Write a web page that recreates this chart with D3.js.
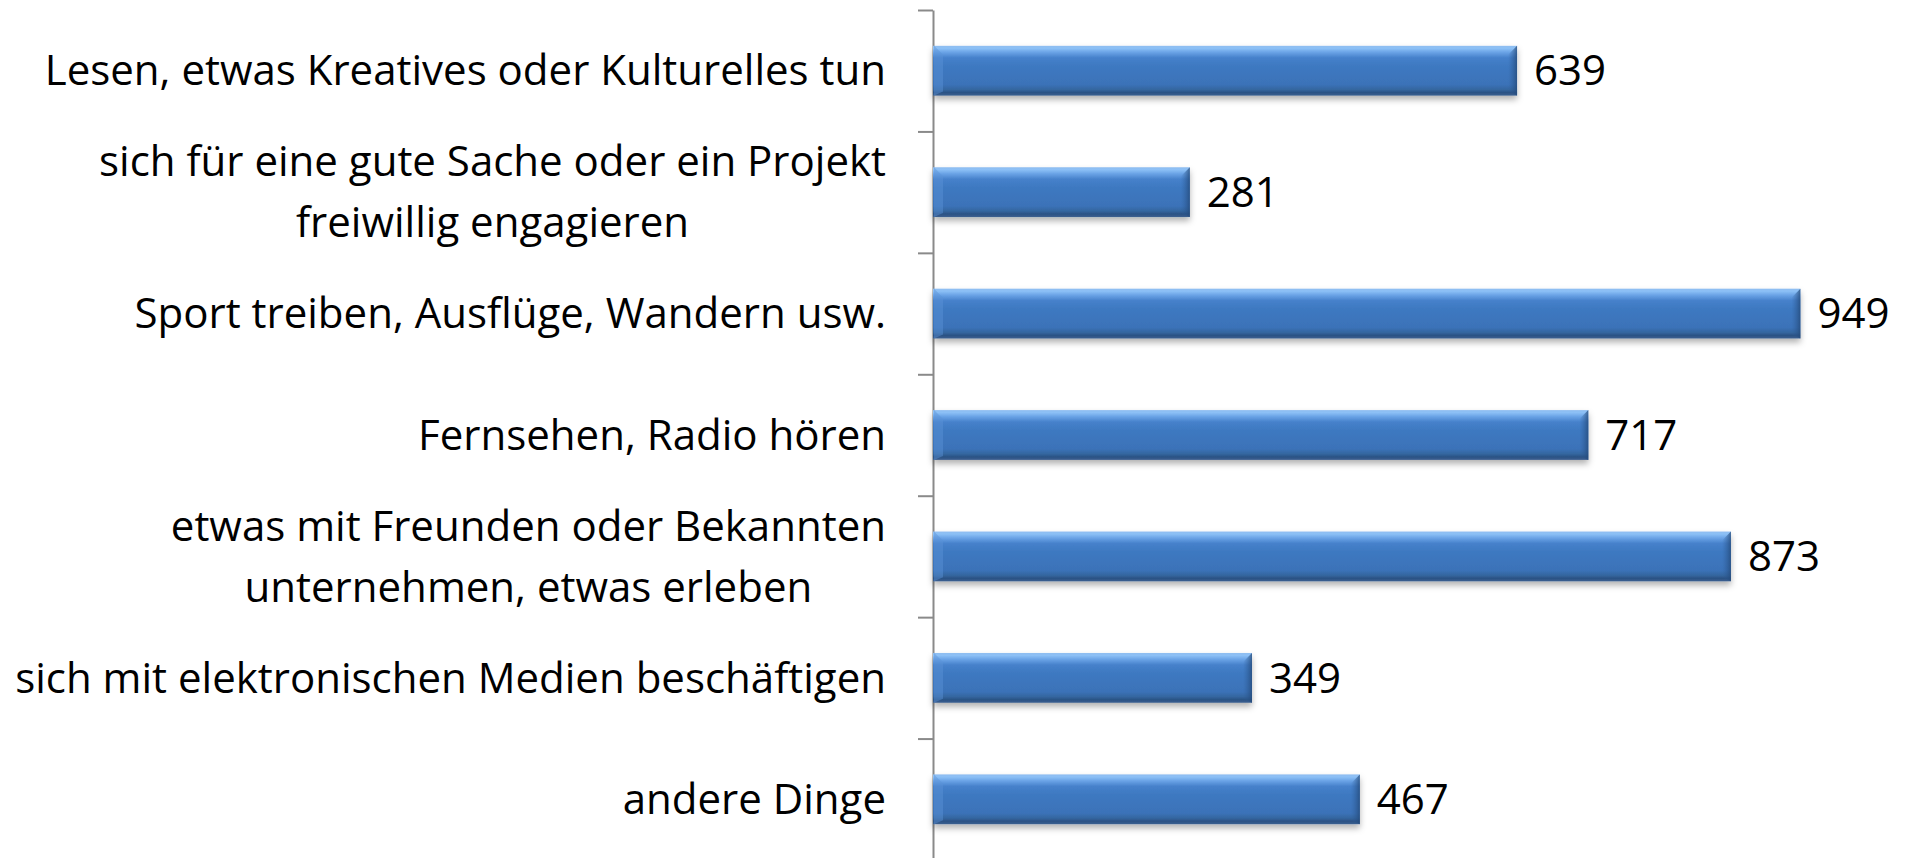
<!DOCTYPE html>
<html>
<head>
<meta charset="utf-8">
<script src="https://cdn.jsdelivr.net/npm/d3@7"></script>
<style>
  body { margin: 0; background: white; }
  svg { display: block; }
  text { font-family: "Open Sans", "Noto Sans", sans-serif; fill: black; }
</style>
</head>
<body>
<main></main>
<script>
const WIDTH = 1908;
const HEIGHT = 858;

// Categories, one entry per bar (lines for wrapped labels)
const categories = [
    ["Lesen, etwas Kreatives oder Kulturelles tun"],
    ["sich für eine gute Sache oder ein Projekt", "freiwillig engagieren"],
    ["Sport treiben, Ausflüge, Wandern usw."],
    ["Fernsehen, Radio hören"],
    ["etwas mit Freunden oder Bekannten", "unternehmen, etwas erleben"],
    ["sich mit elektronischen Medien beschäftigen"],
    ["andere Dinge"]
];
const values = [639, 281, 949, 717, 873, 349, 467];

const FONT_SIZE = 42;
const LINE_HEIGHT = 61;

var svg = d3.select("main").append("svg")
            .attr("width", WIDTH)
            .attr("height", HEIGHT);

var defs = svg.append("defs");

// Gradient for the bevelled bar look
var grad = defs.append("linearGradient")
               .attr("id", "barGrad")
               .attr("x1", 0).attr("y1", 0)
               .attr("x2", 0).attr("y2", 1);
[
    [0.00, "#8fbdf0"],
    [0.05, "#8cc0f6"],
    [0.13, "#6aa3e6"],
    [0.24, "#4681cb"],
    [0.40, "#3e79c1"],
    [0.78, "#3b72b8"],
    [0.88, "#34669f"],
    [0.94, "#2b5284"],
    [1.00, "#3d6090"]
].forEach(function (s) {
    grad.append("stop").attr("offset", s[0]).attr("stop-color", s[1]);
});

var endGrad = defs.append("linearGradient")
                  .attr("id", "endGrad")
                  .attr("x1", 0).attr("y1", 0)
                  .attr("x2", 1).attr("y2", 0);
endGrad.append("stop").attr("offset", 0).attr("stop-color", "#2f5f9c").attr("stop-opacity", 0.0);
endGrad.append("stop").attr("offset", 1).attr("stop-color", "#244a7a").attr("stop-opacity", 0.8);

var shadow = defs.append("filter")
                 .attr("id", "shadow")
                 .attr("x", "-5%").attr("y", "-20%")
                 .attr("width", "110%").attr("height", "160%");
shadow.append("feDropShadow")
      .attr("dx", 0).attr("dy", 4)
      .attr("stdDeviation", 3)
      .attr("flood-color", "#000")
      .attr("flood-opacity", 0.3);

// Scales
var x = d3.scaleLinear()
          .domain([0, 1000])
          .range([933, 1847]);

var y = d3.scaleBand()
          .domain(d3.range(categories.length))
          .range([10, 860])
          .paddingInner(0.59)
          .paddingOuter(0.295);

// Axis with ticks between the categories
var yEdges = d3.scaleLinear()
               .domain([0, categories.length])
               .range([10, 860]);

var axis = svg.append("g")
              .attr("transform", "translate(" + x(0) + ",0)")
              .call(d3.axisLeft(yEdges)
                      .tickValues(d3.range(categories.length + 1))
                      .tickSize(15)
                      .tickSizeOuter(0)
                      .tickFormat(""));
axis.selectAll("path, line")
    .attr("stroke", "#8a8a8a")
    .attr("stroke-width", 2);

// Bars
var bars = svg.append("g")
              .selectAll("g")
              .data(values)
              .enter()
              .append("g");

bars.append("rect")
    .attr("x", x(0))
    .attr("y", function (d, i) { return y(i); })
    .attr("width", function (d) { return x(d) - x(0); })
    .attr("height", y.bandwidth())
    .attr("fill", "url(#barGrad)")
    .attr("filter", "url(#shadow)");

// Right bevel
bars.append("path")
    .attr("d", function (d, i) {
        var x1 = x(d), y0 = y(i), h = y.bandwidth(), b = 9;
        return "M" + (x1 - b) + "," + (y0 + b) + "L" + x1 + "," + y0 +
               "L" + x1 + "," + (y0 + h) + "L" + (x1 - b) + "," + (y0 + h - 4) + "Z";
    })
    .attr("fill", "url(#endGrad)");

// Left bevel
bars.append("path")
    .attr("d", function (d, i) {
        var x0 = x(0) + 1, y0 = y(i), h = y.bandwidth(), b = 9;
        return "M" + x0 + "," + y0 + "L" + (x0 + b) + "," + (y0 + b) +
               "L" + (x0 + b) + "," + (y0 + h - 4) + "L" + x0 + "," + (y0 + h) + "Z";
    })
    .attr("fill", "#5b92d6")
    .attr("opacity", 0.45);

// Value labels
bars.append("text")
    .attr("x", function (d) { return x(d) + 17; })
    .attr("y", function (d, i) { return y(i) + y.bandwidth() / 2; })
    .attr("dy", "0.35em")
    .attr("font-size", FONT_SIZE)
    .text(function (d) { return d; });

// Category labels
var labels = svg.append("g")
                .selectAll("text")
                .data(categories)
                .enter()
                .append("text")
                .attr("font-size", FONT_SIZE)
                .attr("text-anchor", "middle");

labels.each(function (lines, i) {
    var t = d3.select(this);
    var cy = y(i) + y.bandwidth() / 2;
    lines.forEach(function (line, k) {
        t.append("tspan")
         .attr("y", cy + (k - (lines.length - 1) / 2) * LINE_HEIGHT)
         .attr("dy", "0.35em")
         .text(line);
    });
});

// Right align the label block, centre the wrapped lines within it
labels.each(function () {
    var t = d3.select(this);
    var spans = t.selectAll("tspan");
    var maxW = 0;
    spans.each(function () { maxW = Math.max(maxW, this.getComputedTextLength()); });
    spans.attr("x", 886 - maxW / 2);
});
</script>
</body>
</html>
